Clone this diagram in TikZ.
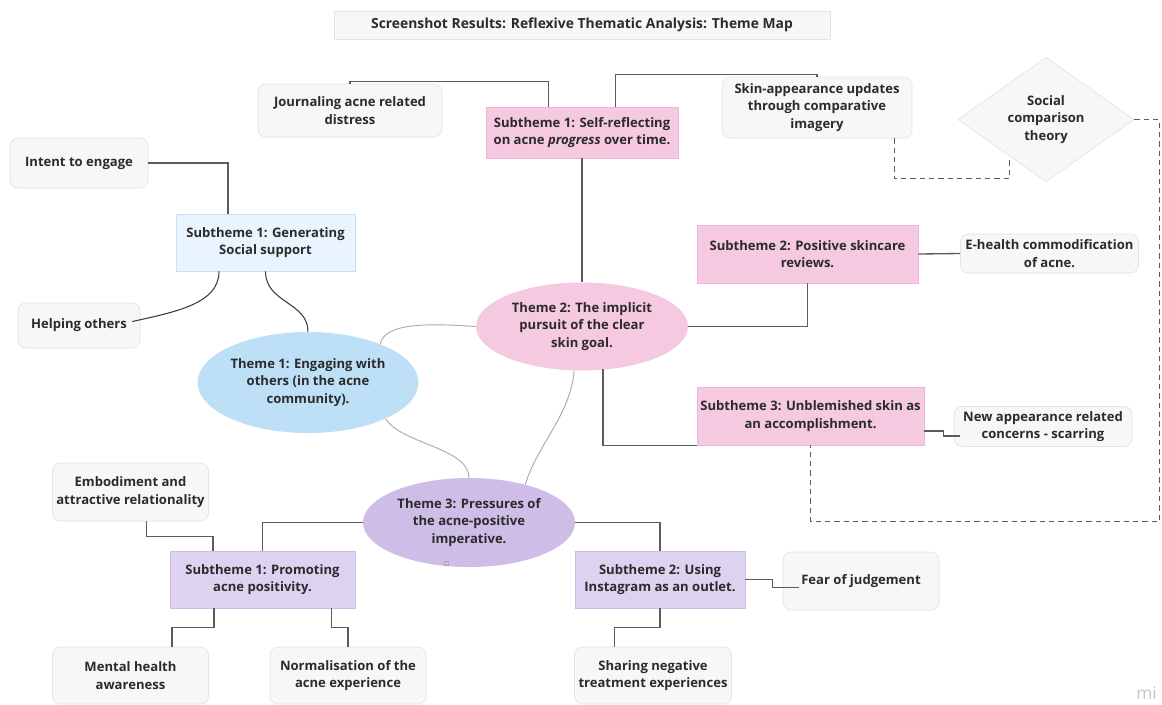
\documentclass[tikz,border=0pt]{standalone}
\usepackage{fontspec}
\setmainfont{Open Sans}
\usetikzlibrary{shapes.geometric, calc, positioning}

\definecolor{boxgrey}{HTML}{F7F7F7}
\definecolor{boxedge}{HTML}{E3E3E3}
\definecolor{pinkfill}{HTML}{F5C9DF}
\definecolor{pinkedge}{HTML}{EBB8D2}
\definecolor{bluefill}{HTML}{BEE0F7}
\definecolor{paleblue}{HTML}{EAF4FE}
\definecolor{paleblueedge}{HTML}{C9E0F4}
\definecolor{purplefill}{HTML}{CDBDE7}
\definecolor{palepurple}{HTML}{DDD3F0}
\definecolor{palepurpleedge}{HTML}{CBBDE6}
\definecolor{linkgrey}{HTML}{5C5C5C}
\definecolor{darkcurve}{HTML}{3C3C3C}
\definecolor{curvegrey}{HTML}{ABABAB}
\definecolor{textdark}{HTML}{2B2B2B}

\tikzset{
  mapfont/.style={font=\fontsize{9.8}{13}\selectfont\bfseries, text=textdark},
  sz/.style 2 args={minimum width=0.75pt*#1, minimum height=0.75pt*#2},
  leaf/.style={mapfont, draw=boxedge, fill=boxgrey, rounded corners=6pt, align=center, inner sep=0pt, line width=0.5pt},
  subbox/.style={mapfont, align=center, inner sep=0pt, line width=0.5pt},
  theme/.style={mapfont, ellipse, align=center, inner sep=0pt},
  link/.style={draw=linkgrey, line width=1pt},
  darklink/.style={draw=darkcurve, line width=0.8pt},
  softlink/.style={draw=curvegrey, line width=0.7pt},
  dashlink/.style={draw=linkgrey, line width=0.9pt, dash pattern=on 4pt off 3pt},
}

\begin{document}
\begin{tikzpicture}[x=0.75pt,y=0.75pt,yscale=-1,xscale=1]
	\path[use as bounding box, fill=white] (0,0) rectangle (1162,704);

	% Title
	\node[leaf, rounded corners=0pt, sz={496}{28}, font=\fontsize{10.4}{13}\selectfont\bfseries] (title) at (582,25) {Screenshot Results: Reflexive Thematic Analysis: Theme Map};

	% Themes
	\node[theme, fill=bluefill, sz={221}{101}] (theme1) at (308,382.5) {Theme 1: Engaging with\\others (in the acne\\community).};
	\node[theme, fill=pinkfill, sz={212}{88}] (theme2) at (582,326.5) {Theme 2: The implicit\\pursuit of the clear\\skin goal.};
	\node[theme, fill=purplefill, sz={212}{89}] (theme3) at (469,522.5) {Theme 3: Pressures of\\the acne-positive\\imperative.};

	% Subthemes
	\node[subbox, fill=pinkfill, draw=pinkedge, sz={192}{51}] (self) at (582,132.5) {Subtheme 1: Self-reflecting\\on acne \textit{progress} over time.};
	\node[subbox, fill=paleblue, draw=paleblueedge, sz={179}{57}] (gen) at (265.5,242.5) {Subtheme 1: Generating\\Social support};
	\node[subbox, fill=pinkfill, draw=pinkedge, sz={221}{58}] (sub2) at (807.5,254) {Subtheme 2: Positive skincare\\reviews.};
	\node[subbox, fill=pinkfill, draw=pinkedge, sz={227}{58}] (sub3) at (810.5,416) {Subtheme 3: Unblemished skin as\\an accomplishment.};
	\node[subbox, fill=palepurple, draw=palepurpleedge, sz={185}{57}] (promo) at (262.5,579.5) {Subtheme 1: Promoting\\acne positivity.};
	\node[subbox, fill=palepurple, draw=palepurpleedge, sz={170}{57}] (insta) at (660,579.5) {Subtheme 2: Using\\Instagram as an outlet.};

	% Codes
	\node[leaf, sz={184}{53}] (journal) at (350,110.5) {Journaling acne related\\distress};
	\node[leaf, sz={190}{61}] (skin) at (817,107.5) {Skin-appearance updates\\through comparative\\imagery};
	\node[leaf, diamond, rounded corners=0pt, sz={176}{113}] (social) at (1046,119.5) {Social\\comparison\\theory};
	\node[leaf, sz={138}{50}] (intent) at (79,163) {Intent to engage};
	\node[leaf, sz={122}{45}] (helping) at (79,325.5) {Helping others};
	\node[leaf, sz={178}{39}] (ehealth) at (1049.5,253.5) {E-health commodification\\of acne.};
	\node[leaf, sz={178}{40}] (newapp) at (1043,426.5) {New appearance related\\concerns - scarring};
	\node[leaf, sz={156}{58}] (embod) at (130.5,492) {Embodiment and\\attractive relationality};
	\node[leaf, sz={156}{57}] (mental) at (130.5,675.5) {Mental health\\awareness};
	\node[leaf, sz={156}{57}] (normal) at (348,675.5) {Normalisation of the\\acne experience};
	\node[leaf, sz={156}{58}] (fear) at (861,581) {Fear of judgement};
	\node[leaf, sz={157}{57}] (sharing) at (653,675.5) {Sharing negative\\treatment experiences};

	% Theme 2 branch
	\draw[link] (journal.north) -- ++(0,-2) -| ($(self.north)+(-33.5,0)$);
	\draw[link] ($(self.north)+(33.5,0)$) -- ++(0,-32) -| (skin.north);
	\draw[link] (self.south) -- (theme2.north);
	\draw[dashlink] ($(skin.south east)+(-18,0)$) -- ++(0,40) -| ($(social.south)!0.41!(social.west)$);
	\draw[dashlink] (social.east) -- ++(25,0) |- ($(sub3.south)+(0,76)$) -- (sub3.south);
	\draw[link] (theme2.east) -| (sub2.south);
	\draw[link] ($(theme2.south)+(21,-2)$) |- (sub3.south west);
	\draw[link] (sub2.east) -- (ehealth.west);
	\draw[link] ($(sub3.east)+(0,15)$) -- ++(19,0) -- ++(0,5) -- ($(newapp.west)+(6,9.5)$);

	% Theme 1 branch
	\draw[link] (intent.east) -| ($(gen.north)+(-37.5,0)$);
	\draw[darklink] ($(gen.south)+(-46.5,0)$) .. controls +(0,32) and +(45,-10) .. ($(helping.east)+(-8,-4)$);
	\draw[darklink] (gen.south) .. controls +(0,32) and +(0,-30) .. (theme1.north);

	% links between themes
	\draw[softlink] (theme1.28) .. controls +(4,-22) and +(-45,-3) .. (theme2.west);
	\draw[softlink] (theme1.-25) .. controls +(15,25) and +(0,-30) .. (theme3.north);
	\draw[softlink] (theme2.-100) .. controls +(-4,45) and +(12,-40) .. (theme3.34);

	% Theme 3 branch
	\draw[link] (theme3.west) -| (promo.north);
	\draw[link] ($(embod.south)+(16,0)$) -- ++(0,15) -| ($(promo.north)+(-49.5,0)$);
	\draw[link] ($(promo.south)+(-48.5,0)$) -- ++(0,19) -| ($(mental.north)+(41.5,0)$);
	\draw[link] ($(promo.south)+(69,0)$) -- ++(0,19) -| (normal.north);
	\draw[link] (theme3.east) -| (insta.north);
	\draw[link] (insta.east) -- ++(27,0) -- ++(0,8) -- ($(fear.west)+(16,6.5)$);
	\draw[link] (insta.south) -- ++(0,19) -| ($(sharing.north)+(-38.5,0)$);

	% small handle and watermark
	\node[draw=curvegrey, line width=0.4pt, minimum size=3pt, inner sep=0pt] (handle) at (446,563) {};
	\node[anchor=base west, inner sep=0pt, text=black!22, font=\fontsize{13}{13}\selectfont] (wmark) at (1136,699) {mi};
\end{tikzpicture}
\end{document}
